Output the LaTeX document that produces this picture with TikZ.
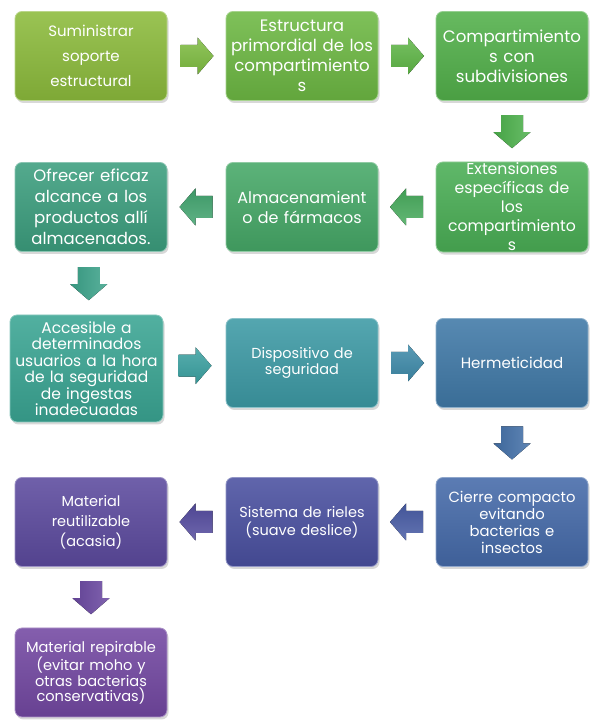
\documentclass[tikz,border=0pt]{standalone}
\usepackage{fontspec}
\setmainfont{Poppins}
\usetikzlibrary{calc,shadows}
\definecolor{c1}{HTML}{8CBB3C}
\definecolor{c2}{HTML}{6DB843}
\definecolor{c3}{HTML}{52B04A}
\definecolor{c6}{HTML}{4AAE55}
\definecolor{c5}{HTML}{46A867}
\definecolor{c4}{HTML}{3C9E7E}
\definecolor{c7}{HTML}{3AA593}
\definecolor{c8}{HTML}{3D9AA5}
\definecolor{c9}{HTML}{4079A7}
\definecolor{c12}{HTML}{456AA9}
\definecolor{c11}{HTML}{4A50A0}
\definecolor{c10}{HTML}{5C4A9E}
\definecolor{c15}{HTML}{7348A2}
\definecolor{a1}{HTML}{7DBB40}
\definecolor{a2}{HTML}{5EB546}
\definecolor{a3}{HTML}{4DB14C}
\definecolor{a4}{HTML}{48AB5D}
\definecolor{a5}{HTML}{43A570}
\definecolor{a6}{HTML}{3CA38A}
\definecolor{a7}{HTML}{3AA0A0}
\definecolor{a8}{HTML}{3D89A8}
\definecolor{a9}{HTML}{4370A8}
\definecolor{a10}{HTML}{485CA5}
\definecolor{a11}{HTML}{554C9F}
\definecolor{a12}{HTML}{6A48A1}
\tikzset{
  box/.style={rounded corners=7pt, minimum width=152pt, minimum height=89pt,
    text width=150pt, align=center, text=white, inner sep=1pt,
    top color=#1!88!white, bottom color=#1!90!black, draw=#1!60!white, line width=0.8pt,
    drop shadow={opacity=0.3, shadow xshift=1.5pt, shadow yshift=-2.5pt}},
  fs/.style 2 args={font=\fontsize{#1}{#2}\selectfont},
  blk/.style={top color=#1!85!white, bottom color=#1!92!black}
}
\newcommand{\blockarrow}[4]{%
  \path ($(#1)!0.5!(#2)$) coordinate (m);
  \begin{scope}[shift={(m)}, rotate=#3]
    \fill[blk=#4, shading angle=#3] (-16,-11) -- (1,-11) -- (1,-18.5) -- (17,0) -- (1,18.5) -- (1,11) -- (-16,11) -- cycle;
  \end{scope}}
\begin{document}
\begin{tikzpicture}[x=1pt,y=1pt]
\useasboundingbox[fill=white] (0,0) rectangle (602,727);
% row 1
\node[box=c1, fs={15}{25}] (b1) at (91,671) {Suministrar\\soporte\\estructural};
\node[box=c2, fs={16.6}{20}] (b2) at (302,671) {Estructura\\primordial de los\\compartimiento\\s};
\node[box=c3, fs={16.6}{20}] (b3) at (512,671) {Compartimiento\\s con\\subdivisiones};
% row 2
\node[box=c6, fs={15.7}{19}] (b6) at (512,520) {Extensiones\\específicas de\\los\\compartimiento\\s};
\node[box=c5, fs={16}{20}] (b5) at (302,520) {Almacenamient\\o de fármacos};
\node[box=c4, fs={16.5}{21}] (b4) at (91,520) {Ofrecer eficaz\\alcance a los\\productos allí\\almacenados.};
% row 3
\node[box=c7, fs={15.5}{16.5}, minimum width=153pt, minimum height=107pt] (b7) at (86.5,358.5) {Accesible a\\determinados\\usuarios a la hora\\de la seguridad\\de ingestas\\inadecuadas};
\node[box=c8, fs={14.5}{16}] (b8) at (302,364) {Dispositivo de\\seguridad};
\node[box=c9, fs={15}{18}] (b9) at (512,364) {Hermeticidad};
% row 4
\node[box=c12, fs={14.8}{17}] (b12) at (512,205) {Cierre compacto\\evitando\\bacterias e\\insectos};
\node[box=c11, fs={14.5}{18}] (b11) at (302,205) {Sistema de rieles\\(suave deslice)};
\node[box=c10, fs={14.5}{20}] (b10) at (91,205) {Material\\reutilizable\\(acasia)};
% row 5
\node[box=c15, fs={14.6}{14.5}] (b15) at (91,54.5) {Material repirable\\(evitar moho y\\otras bacterias\\conservativas)};
% arrows
\blockarrow{b1.east}{b2.west}{0}{a1}
\blockarrow{b2.east}{b3.west}{0}{a2}
\blockarrow{b3.south}{b6.north}{-90}{a3}
\blockarrow{b6.west}{b5.east}{180}{a4}
\blockarrow{b5.west}{b4.east}{180}{a5}
\blockarrow{b4.south}{b7.north}{-90}{a6}
\blockarrow{b7.east}{b8.west}{0}{a7}
\blockarrow{b8.east}{b9.west}{0}{a8}
\blockarrow{b9.south}{b12.north}{-90}{a9}
\blockarrow{b12.west}{b11.east}{180}{a10}
\blockarrow{b11.west}{b10.east}{180}{a11}
\blockarrow{b10.south}{b15.north}{-90}{a12}
\end{tikzpicture}
\end{document}
